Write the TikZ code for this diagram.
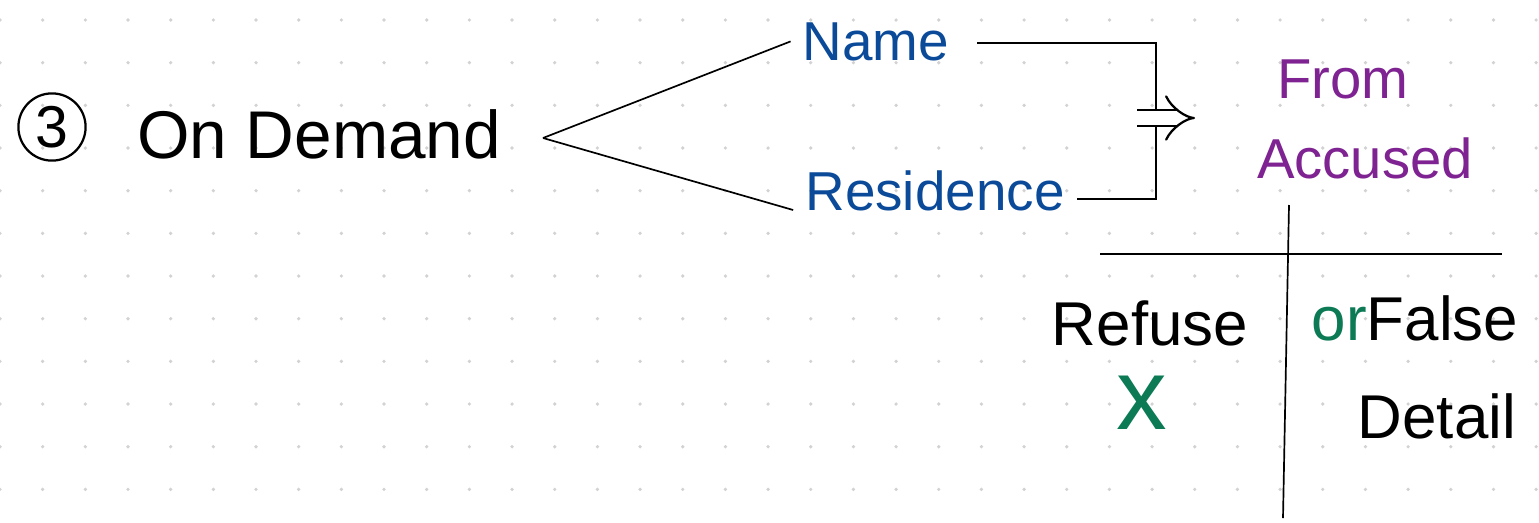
\documentclass[tikz,border=0pt]{standalone}
\usepackage{fontspec}
\setmainfont{Liberation Sans}
\usetikzlibrary{arrows.meta,positioning}
\definecolor{NoteBlue}{HTML}{0A4A99}
\definecolor{NotePurple}{HTML}{7E2391}
\definecolor{NoteGreen}{HTML}{0B7A55}
\definecolor{NoteDot}{HTML}{D2D2D2}

\begin{document}
\begin{tikzpicture}[
    x=0.025cm,y=-0.025cm,
    word/.style={inner xsep=0.3cm,inner ysep=0pt,anchor=base},
    bluetxt/.style={word,text=NoteBlue,font=\fontsize{39}{44}\selectfont},
    purpletxt/.style={word,text=NotePurple,font=\fontsize{40}{44}\selectfont},
    chart/.style={word,text=black,font=\fontsize{44}{48}\selectfont},
    pen/.style={line width=1.2pt,black},
  ]
    \fill[white] (0,0) rectangle (1539,522);
    \useasboundingbox (0,0) rectangle (1539,522);

    % DOT GRID
    \foreach \i in {0,...,36}
      \foreach \j in {0,...,11}
        \fill[NoteDot] (\i*42.67,20+\j*42.67) circle (1.3pt);

    % HEADING
    \node[draw,circle,line width=1.6pt,minimum size=1.68cm,inner sep=0pt,font=\fontsize{42}{44}\selectfont] (num) at (52,127) {3};
    \node[word,font=\fontsize{48}{52}\selectfont] (demand) at (319,158) {On Demand};

    % BRANCHES
    \node[bluetxt] (name) at (876,60) {Name};
    \node[bluetxt] (residence) at (935,210) {Residence};
    \node[purpletxt] (fromtxt) at (1343,98) {From};
    \node[purpletxt] (accusedtxt) at (1365,178) {Accused};

    % T CHART
    \node[chart] (refuse) at (1150,345) {Refuse};
    \node[chart] (falsetxt) at (1415,340) {{\color{NoteGreen}or}False};
    \node[chart] (detail) at (1437,438) {Detail};
    \node[text=NoteGreen,inner sep=0pt,font=\fontsize{72}{74}\selectfont] (cross) at (1142,403) {x};

    % Coordinates
    \coordinate (fork) at (543,138);
    \coordinate (railtop) at (1156,43);
    \coordinate (railbot) at (1156,199);
    \coordinate (impA) at (1137,118);
    \coordinate (impB) at (1195,118);
    \coordinate (hl) at (1100,254);
    \coordinate (hr) at (1502,254);
    \coordinate (vt) at (1289,205);
    \coordinate (vb) at (1283,518);

    % Lines - fork
    \draw[pen] (fork) -- (name.west);
    \draw[pen] (fork) -- (residence.base west);

    % Lines - bracket
    \draw[pen] ([xshift=0.4cm]name.east |- railtop) -- (railtop) -- (railbot) -- (residence.east |- railbot);
    \draw[pen,line width=1.6pt,double,double distance=10pt,-{Implies}] (impA) -- (impB);

    % Lines - chart
    \draw[pen] (hl) -- (hr);
    \draw[pen] (vt) -- (vb);
  \end{tikzpicture}
\end{document}
